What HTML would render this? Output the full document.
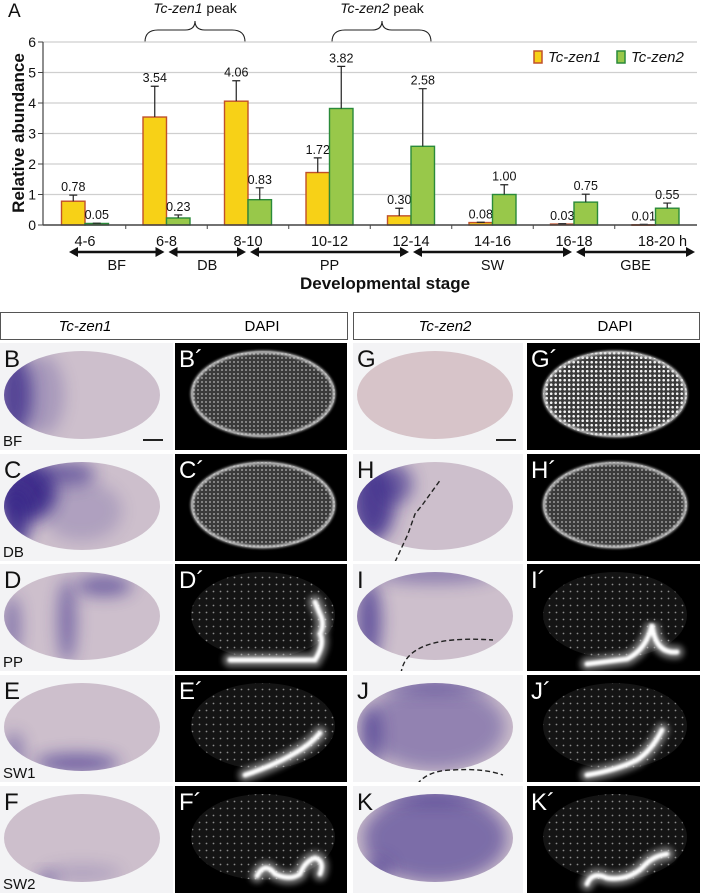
<!DOCTYPE html>
<html><head><meta charset="utf-8"><style>
html,body{margin:0;padding:0;background:#fff;}
svg{display:block;font-family:"Liberation Sans",sans-serif;}
</style></head><body>
<svg id="fig" width="701" height="893" viewBox="0 0 701 893" xmlns="http://www.w3.org/2000/svg">
<defs>
  <pattern id="dots" width="4" height="4" patternUnits="userSpaceOnUse">
    <circle cx="2" cy="2" r="0.9" fill="#b5b5b5"/>
  </pattern>
  <pattern id="dotsB" width="4.5" height="4.5" patternUnits="userSpaceOnUse">
    <circle cx="2.2" cy="2.2" r="1.3" fill="#f2f2f2"/>
  </pattern>
  <pattern id="dotsS" width="7" height="7" patternUnits="userSpaceOnUse">
    <circle cx="3.5" cy="3.5" r="0.9" fill="#8a8a8a"/>
  </pattern>
  <filter id="blur3" x="-1" y="-1" width="3" height="3"><feGaussianBlur stdDeviation="3"/></filter>
  <filter id="blur1" x="-1" y="-1" width="3" height="3"><feGaussianBlur stdDeviation="1.2"/></filter>
  <filter id="blur5" x="-1" y="-1" width="3" height="3"><feGaussianBlur stdDeviation="8"/></filter>
</defs>

<g id="chart">
  <text x="8" y="17" font-size="19" fill="#111">A</text>
  <text x="195" y="13" font-size="14" text-anchor="middle" fill="#111"><tspan font-style="italic">Tc-zen1</tspan> peak</text>
  <path d="M145,42 Q145,30 158,30 L185,30 Q195,30 195,21 Q195,30 205,30 L232,30 Q245,30 245,42" fill="none" stroke="#222" stroke-width="1.1"/>
  <text x="382" y="13" font-size="14" text-anchor="middle" fill="#111"><tspan font-style="italic">Tc-zen2</tspan> peak</text>
  <path d="M332,42 Q332,30 345,30 L372,30 Q382,30 382,21 Q382,30 392,30 L419,30 Q431,30 431,42" fill="none" stroke="#222" stroke-width="1.1"/>
  <g id="grid"></g>
  <g id="bars"></g>
  <g id="axes"></g>
  <text transform="translate(24,133) rotate(-90)" font-size="17" font-weight="bold" text-anchor="middle" fill="#111">Relative abundance</text>
  <text x="385" y="289" font-size="17" font-weight="bold" text-anchor="middle" fill="#111">Developmental stage</text>
  <g>
    <rect x="534" y="51" width="8" height="12" fill="#f7d117" stroke="#c0502a" stroke-width="1.5"/>
    <text x="548" y="62" font-size="15" font-style="italic" fill="#111">Tc-zen1</text>
    <rect x="617" y="51" width="8" height="12" fill="#98c84a" stroke="#2a8a3a" stroke-width="1.5"/>
    <text x="631" y="62" font-size="15" font-style="italic" fill="#111">Tc-zen2</text>
  </g>
  <g id="stages"></g>
</g>

<rect x="0.5" y="312.5" width="347" height="27" fill="#fff" stroke="#555"/>
<rect x="353.5" y="312.5" width="346" height="27" fill="#fff" stroke="#555"/>
<text x="85" y="331" font-size="15" font-style="italic" text-anchor="middle">Tc-zen1</text>
<text x="262" y="331" font-size="15" text-anchor="middle">DAPI</text>
<text x="445" y="331" font-size="15" font-style="italic" text-anchor="middle">Tc-zen2</text>
<text x="615" y="331" font-size="15" text-anchor="middle">DAPI</text>

<g id="panels"></g>
</svg>

<script>
const categories = ["4-6","6-8","8-10","10-12","12-14","14-16","16-18","18-20 h"];
const zen1 = [0.78,3.54,4.06,1.72,0.30,0.08,0.03,0.01];
const zen2 = [0.05,0.23,0.83,3.82,2.58,1.00,0.75,0.55];
const zen1Err = [0.20,1.01,0.67,0.48,0.25,0.01,0.01,0.01];
const zen2Err = [0.01,0.10,0.39,1.38,1.89,0.32,0.26,0.17];
const zen1Labels = ["0.78","3.54","4.06","1.72","0.30","0.08","0.03","0.01"];
const zen2Labels = ["0.05","0.23","0.83","3.82","2.58","1.00","0.75","0.55"];
const yTicks = [0,1,2,3,4,5,6];
const stageNames = ["BF","DB","PP","SW","GBE"];
const stageStart = [0,1,2,4,6];
const stageEnd = [1,2,4,6,8];

const NS="http://www.w3.org/2000/svg";
function mk(tag,attrs,parent){const e=document.createElementNS(NS,tag);for(const k in attrs)e.setAttribute(k,attrs[k]);parent.appendChild(e);return e;}
const X0=43,X1=697,Y0=225,UNIT=30.5,GW=81.5,C0=85,BW=23.5;
const y=v=>Y0-v*UNIT;
const cx=i=>C0+GW*i;

const grid=document.getElementById('grid');
yTicks.forEach(t=>{
  if(t>0){const l=mk('line',{x1:X0,x2:X1,y1:y(t),y2:y(t),stroke:'#cfcfcf','stroke-width':1.3},grid);
  
  }
  const tk=mk('line',{x1:X0-5,x2:X0,y1:y(t),y2:y(t),stroke:'#444','stroke-width':1},grid);
  
  
  const tx=mk('text',{x:X0-7,y:y(t)+5,'font-size':14,'text-anchor':'end',fill:'#111'},grid);
  tx.textContent=t;
  
  
});

const bars=document.getElementById('bars');
function drawSeries(vals,errs,labels,off,fill,stroke,name){
  vals.forEach((v,i)=>{
    const x=cx(i)+off;
    const r=mk('rect',{x:x,y:y(v),width:BW,height:Math.max(Y0-y(v),0.6),fill:fill,stroke:stroke,'stroke-width':1.4},bars);
    
    
    const top=v+errs[i];
    const m=x+BW/2;
    const e=mk('path',{d:`M${m},${y(v)} L${m},${y(top)} M${m-4},${y(top)} L${m+4},${y(top)}`,stroke:'#222','stroke-width':1.2,fill:'none'},bars);
    
    
    const t=mk('text',{x:m,y:y(top)-4,'font-size':12.5,'text-anchor':'middle',fill:'#111'},bars);
    t.textContent=labels[i];
    
    
  });
}
drawSeries(zen1,zen1Err,zen1Labels,-BW,'#f7d117','#c0502a','zen1');
drawSeries(zen2,zen2Err,zen2Labels,0,'#98c84a','#2a8a3a','zen2');

const axes=document.getElementById('axes');
const ya=mk('line',{x1:X0,x2:X0,y1:y(6),y2:Y0,stroke:'#444','stroke-width':1.2},axes);


const xa=mk('line',{x1:X0,x2:X1,y1:Y0,y2:Y0,stroke:'#444','stroke-width':1.4},axes);


categories.forEach((c,i)=>{
  const b=cx(i)+GW/2;
  if(i<categories.length-1){const tk=mk('line',{x1:b,x2:b,y1:Y0,y2:Y0+4,stroke:'#444'},axes);
  
  }
  const t=mk('text',{x:i==7?cx(i)+7:cx(i),y:246,'font-size':14.5,'text-anchor':'middle',fill:'#111'},axes);
  t.textContent=c;
  
  
});

const stages=document.getElementById('stages');
stageNames.forEach((s,k)=>{
  const a=stageStart[k]==0?69:cx(stageStart[k])+2;
  const b=stageEnd[k]==8?695:cx(stageEnd[k])-2;
  const g=mk('g',{},stages);
  
  
  mk('line',{x1:a+6,x2:b-6,y1:252,y2:252,stroke:'#111','stroke-width':2.4},g);
  mk('path',{d:`M${a},252 L${a+9},247 L${a+9},257 Z`,fill:'#111'},g);
  mk('path',{d:`M${b},252 L${b-9},247 L${b-9},257 Z`,fill:'#111'},g);
  const t=mk('text',{x:(a+b)/2,y:270,'font-size':14.5,'text-anchor':'middle',fill:'#111'},stages);
  t.textContent=s;
  
  
});

const panels=document.getElementById('panels');
const rowsY=[343,454,564,675,786];
const colX=[0,175,353,527];
const colW=[173,172,170,173];
const PH=107;
const ishLetters=[["B","BF"],["C","DB"],["D","PP"],["E","SW1"],["F","SW2"]];
const ishLetters2=["G","H","I","J","K"];
const spots1=[
  [[-68,0,18,44,0.8],[-40,0,22,40,0.25]],
  [[-55,-15,30,30,0.95],[-66,12,14,30,0.9],[-15,-32,28,12,0.6],[0,5,40,30,0.2]],
  [[-15,5,9,42,0.55],[22,-30,28,10,0.6],[-70,10,8,30,0.5]],
  [[-5,36,42,9,0.65],[-68,25,10,20,0.4]],
  [[-35,42,10,6,0.6],[0,35,40,8,0.2]]
];
const spots2=[
  [],
  [[-62,-5,22,40,0.85],[-40,-22,18,20,0.6]],
  [[-66,5,12,40,0.7],[0,-42,60,9,0.45]],
  [[0,0,70,42,0.4],[-64,10,10,32,0.6],[0,-42,60,8,0.5]],
  [[0,0,72,44,0.55],[-58,32,14,12,0.6],[0,-42,62,8,0.55]]
];
const dashes=[null,
 "M42,108 L55,80 L62,60 L70,50 L88,25",
 "M48,110 Q52,70 140,76",
 "M60,116 Q70,95 100,95 Q130,93 150,100",
 null];
const folds1=[null,null,"M55,96 L140,96 Q150,80 145,70 Q150,60 145,50 L140,38","M70,100 Q100,90 120,78 Q135,70 145,58","M82,90 Q90,75 100,88 Q115,95 125,88 Q130,75 140,72 Q150,75 145,88"];
const folds2=[null,null,"M60,100 L100,95 Q120,85 125,60 Q128,90 150,88","M60,100 Q90,95 110,85 Q125,75 135,55","M60,98 Q65,85 80,92 Q100,95 115,82 Q125,70 140,68"];

rowsY.forEach((ry,r)=>{
  [0,1,2,3].forEach(c=>{
    const x0=colX[c], w=colW[c];
    const g=mk('g',{},panels);
    const dapi=(c==1||c==3);
    const letter=c<2?ishLetters[r][0]:ishLetters2[r];
    
    
    const clip='clip'+r+c;
    const cp=mk('clipPath',{id:clip},g);
    mk('rect',{x:x0,y:ry,width:w,height:PH},cp);
    const inner=mk('g',{'clip-path':`url(#${clip})`},g);
    if(!dapi){
      mk('rect',{x:x0,y:ry,width:w,height:PH,fill:'#f3f3f5'},inner);
      const ecx=x0+82, ecy=ry+52;
      const base=(c==2&&r==0)?'#d7c4c9':'#cdbfcc';
      mk('ellipse',{cx:ecx,cy:ecy,rx:78,ry:44,fill:base},inner);
      const sp=(c==0?spots1:spots2)[r];
      const eclip='ec'+r+c;
      const ec=mk('clipPath',{id:eclip},g);
      mk('ellipse',{cx:ecx,cy:ecy,rx:78,ry:44},ec);
      const sg=mk('g',{'clip-path':`url(#${eclip})`},inner);
      sp.forEach(s=>mk('ellipse',{cx:ecx+s[0],cy:ecy+s[1],rx:s[2],ry:s[3],fill:'#3a2a8a',opacity:s[4],filter:'url(#blur5)'},sg));
      if(c==2&&dashes[r]) mk('path',{d:dashes[r],transform:`translate(${x0},${ry})`,fill:'none',stroke:'#222','stroke-width':1.4,'stroke-dasharray':'5,3'},inner);
      const t=mk('text',{x:x0+4,y:ry+24,'font-size':24,fill:'#111'},inner);
      t.textContent=letter;
      if(c==0){const s=mk('text',{x:x0+3,y:ry+103,'font-size':15,fill:'#111'},inner);s.textContent=ishLetters[r][1];}
      if(r==0) mk('rect',{x:x0+143,y:ry+96,width:20,height:2,fill:'#222'},inner);
    } else {
      mk('rect',{x:x0,y:ry,width:w,height:PH,fill:'#000'},inner);
      const ecx=x0+88, ecy=ry+51;
      const bright=(c==3&&r==0);
      mk('ellipse',{cx:ecx,cy:ecy,rx:72,ry:43,fill:r<2?'#3a3a3a':'#141414'},inner);
      mk('ellipse',{cx:ecx,cy:ecy,rx:72,ry:43,fill:bright?'url(#dotsB)':(r<2?'url(#dots)':'url(#dotsS)')},inner);
      if(r<2) mk('ellipse',{cx:ecx,cy:ecy,rx:71,ry:42,fill:'none',stroke:'#ddd','stroke-width':2.5,filter:'url(#blur1)'},inner);
      const fp=(c==1?folds1:folds2)[r];
      if(fp){
        mk('path',{d:fp,transform:`translate(${x0},${ry})`,fill:'none',stroke:'#bbb','stroke-width':14,'stroke-linecap':'round',opacity:0.6,filter:'url(#blur3)'},inner);
        mk('path',{d:fp,transform:`translate(${x0},${ry})`,fill:'none',stroke:'#fff','stroke-width':5,'stroke-linecap':'round',filter:'url(#blur1)'},inner);
      }
      const t=mk('text',{x:x0+4,y:ry+24,'font-size':24,fill:'#fff'},inner);
      t.textContent=letter+'\u00B4';
    }
  });
});
</script>
</body></html>
